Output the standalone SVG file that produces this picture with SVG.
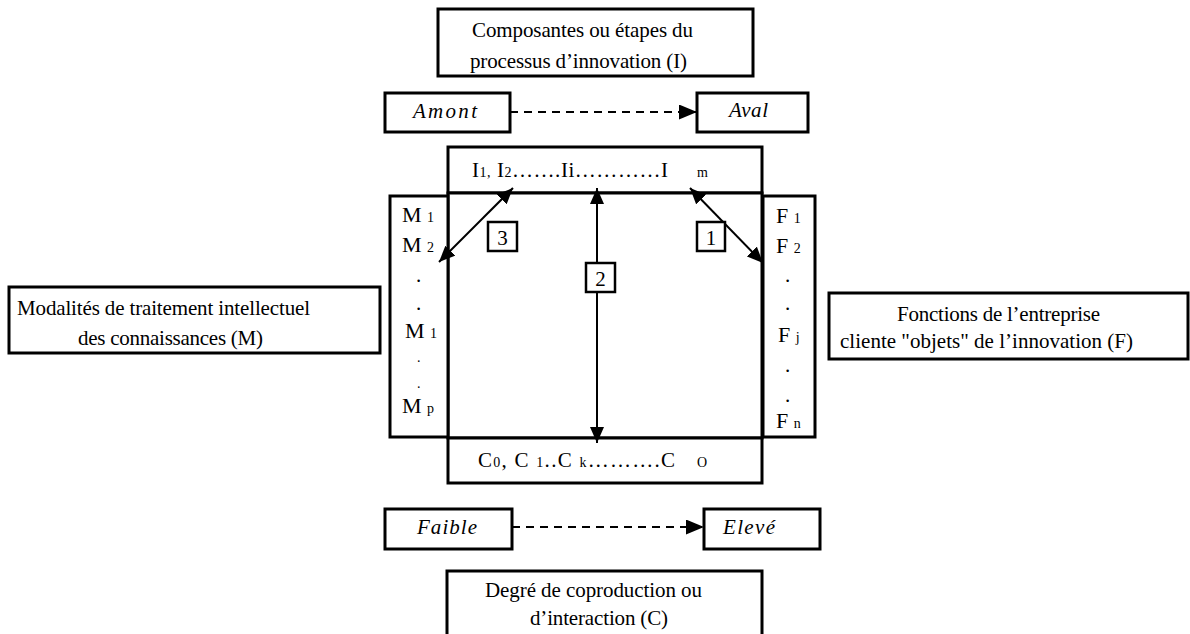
<svg xmlns="http://www.w3.org/2000/svg" width="1190" height="634" viewBox="0 0 1190 634">
<style>
.box{fill:#fff;stroke:#000;stroke-width:3}
.lbl{fill:#fff;stroke:#000;stroke-width:2.5}
text{font-family:'Liberation Serif','Times New Roman',Times,'DejaVu Serif','Noto Serif',serif;font-size:21px;fill:#000}
.i{font-style:italic}
.s{font-size:14px}
.b{font-size:22px}
.ln{stroke:#000;stroke-width:2;fill:none}
.dash{stroke:#000;stroke-width:2;stroke-dasharray:8 6;fill:none}
</style>
<defs>
<marker id="ah" viewBox="0 0 16 14" refX="16" refY="7" markerWidth="16" markerHeight="14" markerUnits="userSpaceOnUse" orient="auto-start-reverse">
<path d="M0,0 L16,7 L0,14 z" fill="#000"/>
</marker>
<marker id="ahd" viewBox="0 0 18 15" refX="18" refY="7.5" markerWidth="18" markerHeight="15" markerUnits="userSpaceOnUse" orient="auto">
<path d="M0,0 L18,7.5 L0,15 z" fill="#000"/>
</marker>
</defs>
<rect width="1190" height="634" fill="#fff"/>

<g id="node-composantes">
<rect class="box" x="438" y="9" width="315" height="67"/>
<text x="472" y="37" textLength="221" lengthAdjust="spacing">Composantes ou étapes du</text>
<text x="470" y="68" textLength="217" lengthAdjust="spacing">processus d’innovation (I)</text>
</g>

<g id="node-amont">
<rect class="box" x="385" y="93" width="125" height="39"/>
<text class="i" x="413" y="118" textLength="64" lengthAdjust="spacing">Amont</text>
</g>
<g id="node-aval">
<rect class="box" x="697" y="93" width="111" height="39"/>
<text class="i" x="729" y="117" textLength="39" lengthAdjust="spacing">Aval</text>
</g>

<g id="node-I">
<rect class="box" x="448" y="147" width="314" height="46"/>
<text x="472" y="177" textLength="196" lengthAdjust="spacing">I<tspan class="s">1,</tspan> I<tspan class="s">2</tspan>…….Ii…………I</text>
<text class="s" x="697" y="177">m</text>
</g>

<g id="node-square">
<rect class="box" x="448" y="193" width="314" height="245"/>
</g>

<g id="node-M">
<rect class="box" x="390" y="196" width="58" height="241"/>
<text class="b" x="402" y="222">M <tspan class="s">1</tspan></text>
<text class="b" x="402" y="252">M <tspan class="s">2</tspan></text>
<text x="416" y="282">.</text>
<text x="416" y="310">.</text>
<text class="b" x="405" y="338">M <tspan class="s">1</tspan></text>
<text class="s" x="417" y="362">.</text>
<text class="s" x="417" y="388">.</text>
<text class="b" x="402" y="413">M <tspan class="s">p</tspan></text>
</g>

<g id="node-F">
<rect class="box" x="763" y="196" width="52" height="241"/>
<text class="b" x="776" y="223">F <tspan class="s">1</tspan></text>
<text class="b" x="776" y="253">F <tspan class="s">2</tspan></text>
<text x="785" y="282">.</text>
<text x="785" y="310">.</text>
<text class="b" x="778" y="342">F <tspan class="s">j</tspan></text>
<text x="785" y="372">.</text>
<text x="785" y="402">.</text>
<text class="b" x="776" y="428">F <tspan class="s">n</tspan></text>
</g>

<g id="node-C">
<rect class="box" x="448" y="438" width="314" height="45"/>
<text x="478" y="467" textLength="197" lengthAdjust="spacing">C<tspan class="s">0</tspan>, C <tspan class="s">1</tspan>..C <tspan class="s">k</tspan>……….C</text>
<text class="s" x="697" y="467">O</text>
</g>

<g id="node-faible">
<rect class="box" x="385" y="509" width="127" height="40"/>
<text class="i" x="417" y="534" textLength="60" lengthAdjust="spacing">Faible</text>
</g>
<g id="node-eleve">
<rect class="box" x="704" y="509" width="116" height="40"/>
<text class="i" x="723" y="534" textLength="52" lengthAdjust="spacing">Elevé</text>
</g>

<g id="node-degre">
<rect class="box" x="447" y="571" width="315" height="70"/>
<text x="485" y="597" textLength="217" lengthAdjust="spacing">Degré de coproduction ou</text>
<text x="530" y="625" textLength="138" lengthAdjust="spacing">d’interaction (C)</text>
</g>

<g id="node-modalites">
<rect class="box" x="9" y="287" width="371" height="66"/>
<text x="17" y="315" textLength="293" lengthAdjust="spacing">Modalités de traitement intellectuel</text>
<text x="78" y="345" textLength="185" lengthAdjust="spacing">des connaissances (M)</text>
</g>

<g id="node-fonctions">
<rect class="box" x="829" y="293" width="359" height="66"/>
<text x="897" y="321" textLength="203" lengthAdjust="spacing">Fonctions de l’entreprise</text>
<text x="840" y="348" textLength="293" lengthAdjust="spacing">cliente "objets" de l’innovation (F)</text>
</g>

<g id="connectors">
<line class="dash" x1="510" y1="112" x2="697" y2="112" marker-end="url(#ahd)"/>
<line class="dash" x1="512" y1="527" x2="704" y2="527" marker-end="url(#ahd)"/>
<line class="ln" x1="439" y1="262" x2="513" y2="188" marker-start="url(#ah)" marker-end="url(#ah)"/>
<line class="ln" x1="690" y1="188" x2="763" y2="263" marker-start="url(#ah)" marker-end="url(#ah)"/>
<line class="ln" x1="597" y1="188" x2="597" y2="443" marker-start="url(#ah)" marker-end="url(#ah)"/>
</g>

<g id="labels">
<rect class="lbl" x="488" y="222" width="29" height="29"/>
<text x="502.5" y="245" text-anchor="middle" font-size="22">3</text>
<rect class="lbl" x="697" y="222" width="28" height="29"/>
<text x="711" y="245" text-anchor="middle" font-size="22">1</text>
<rect class="lbl" x="586" y="263" width="29" height="29"/>
<text x="600.5" y="286" text-anchor="middle" font-size="22">2</text>
</g>
</svg>
